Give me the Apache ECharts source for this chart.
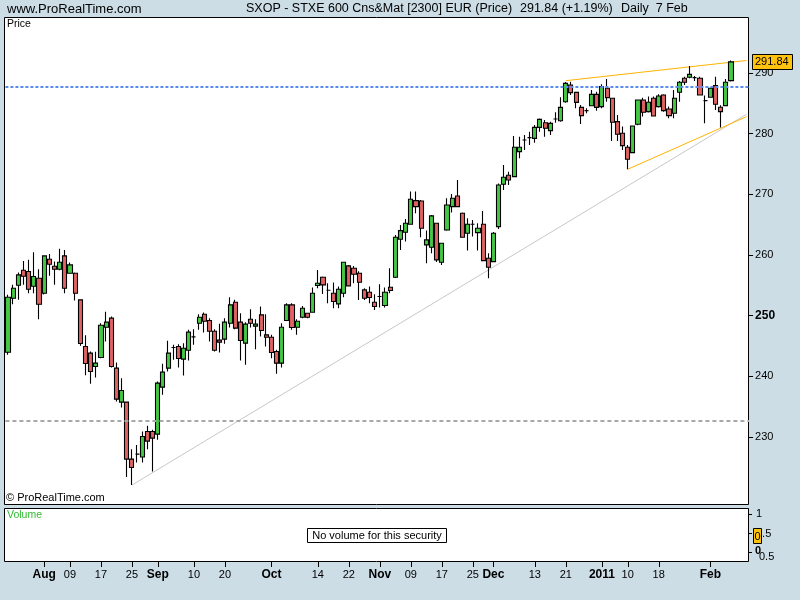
<!DOCTYPE html>
<html><head><meta charset="utf-8">
<script src="https://cdn.jsdelivr.net/npm/echarts@6/dist/echarts.min.js"></script>
<style>html,body{margin:0;padding:0;background:#ccdde6}#c{width:800px;height:600px}</style>
</head><body><div id="c"></div>
<script>
// ---- data ----
const opens = [243.98,252.88,255.02,257.49,257.27,254.86,256.17,253.70,259.30,258.15,257.66,259.85,257.00,257.00,252.61,244.92,243.82,241.62,243.11,248.10,249.59,241.35,235.75,235.75,226.36,227.18,226.69,230.91,230.91,230.47,238.22,241.35,244.75,244.92,242.83,244.31,246.51,248.76,250.24,249.20,247.44,245.96,246.13,248.76,252.22,248.93,245.47,249.42,248.27,250.13,246.84,246.45,244.09,242.17,249.20,251.78,248.10,249.75,250.40,250.57,254.96,256.33,254.19,253.70,251.94,253.70,258.20,257.82,256.99,254.25,253.86,252.22,253.15,251.67,254.69,256.33,262.60,263.75,265.07,268.97,268.91,261.66,261.28,265.23,258.81,264.13,267.97,269.73,266.88,263.58,265.06,263.69,265.06,259.46,258.91,264.68,271.65,273.14,272.92,277.04,278.96,279.34,279.23,281.04,281.81,280.50,282.42,282.14,285.27,288.02,286.81,284.34,283.79,284.61,286.48,284.46,287.48,285.83,281.99,280.07,277.76,276.88,281.55,285.56,283.63,285.83,284.46,286.38,284.07,283.36,286.82,289.13,289.29,289.24,289.13,285.45,286.00,287.92,284.35,284.62,288.74];
const closes = [253.04,254.53,256.72,256.50,254.36,256.45,251.89,259.85,258.48,257.66,258.81,254.53,258.37,253.70,245.41,242.12,240.80,242.17,248.43,248.93,241.62,236.24,237.67,226.36,224.98,227.18,230.09,229.32,229.82,238.88,240.69,243.82,244.75,242.94,244.64,247.28,246.51,249.75,249.09,247.44,244.31,245.63,248.93,251.78,247.94,245.91,248.60,248.76,248.60,247.55,246.45,243.93,242.17,248.10,251.78,248.05,249.09,251.23,249.75,253.70,255.35,255.07,254.19,252.33,254.36,258.81,254.91,256.83,255.51,252.88,252.99,251.50,253.15,253.86,254.14,262.92,264.02,265.23,269.18,267.98,264.41,262.49,266.44,259.19,261.94,268.25,269.35,267.97,262.92,265.06,265.06,264.41,259.08,257.98,263.58,271.54,272.81,272.37,277.75,277.75,278.96,279.34,281.04,282.36,280.88,281.70,282.42,284.34,288.29,286.76,285.16,282.97,283.79,286.48,284.34,287.75,285.94,281.88,279.90,278.03,275.78,281.27,285.56,283.52,285.17,282.92,286.22,283.80,282.98,285.83,288.47,288.47,289.78,289.24,286.38,285.45,287.48,284.84,283.63,288.47,291.84];
const lows = [243.54,251.89,252.61,255.08,253.70,253.70,249.42,253.50,256.56,255.08,257.50,253.70,256.90,252.50,245.03,240.19,238.77,239.81,243.00,245.74,241.46,235.86,234.87,223.39,222.07,225.81,225.81,228.00,224.32,229.54,236.95,240.80,242.72,241.46,240.14,242.61,245.19,247.66,247.22,245.74,244.09,243.93,245.36,248.05,247.77,242.61,241.90,248.05,244.48,246.56,244.92,243.00,240.41,241.46,249.10,247.66,246.84,249.58,249.58,250.50,254.52,253.59,252.05,251.23,251.23,253.04,254.80,255.35,252.60,252.60,252.05,250.95,251.34,251.34,253.70,256.20,260.84,262.21,265.00,266.88,262.92,258.64,260.29,258.86,258.37,264.00,266.99,267.90,262.90,260.73,263.03,260.73,259.00,256.17,258.80,264.30,270.72,271.54,272.80,275.94,277.31,278.13,278.52,280.33,279.51,279.78,281.81,281.98,285.10,286.37,284.17,281.59,283.35,284.50,283.79,284.18,285.28,278.80,278.80,277.32,274.13,276.80,281.40,282.81,283.50,282.81,284.30,283.60,282.54,282.54,285.28,288.03,289.13,288.70,286.30,281.71,285.90,283.91,281.00,284.50,288.60];
const highs = [253.43,255.08,257.11,259.03,259.20,260.46,257.66,259.90,260.18,258.92,261.01,260.84,258.76,257.10,252.70,246.78,244.09,244.04,248.76,250.63,249.86,242.28,239.70,235.80,228.00,228.66,230.91,231.85,231.20,239.15,242.06,245.85,245.19,245.30,245.47,247.66,247.77,250.24,250.52,249.58,247.77,248.65,249.58,253.04,252.61,250.41,248.93,251.07,249.42,251.51,250.24,246.84,244.37,248.76,252.06,252.06,249.42,251.61,250.50,254.63,257.54,256.44,255.35,255.46,254.80,258.90,258.37,258.20,257.30,254.50,254.80,253.53,255.18,254.63,257.82,263.31,264.96,265.94,270.45,270.45,269.07,264.02,266.60,265.30,262.00,269.35,270.06,272.37,266.99,266.05,265.78,265.23,267.26,260.29,263.80,271.80,274.84,273.74,279.62,279.51,279.78,280.33,281.43,282.50,282.25,281.98,283.52,285.99,288.50,288.57,286.92,284.72,284.17,287.20,286.92,288.14,289.02,285.90,283.09,281.16,278.14,281.30,285.60,285.94,286.11,286.11,286.49,286.49,284.46,287.20,288.69,289.40,291.16,289.50,289.40,286.27,287.60,289.40,284.70,289.02,292.04];
const lastClose = 291.84;
const priceTicks = [230, 240, 250, 260, 270, 280, 290];
const hLevels = { blue: 287.74, grey: 232.67 };
const trendGrey = [[24, 222.07], [143, 283.2]];
const trendUpper = [[108, 288.73], [143, 292.06]];
const trendLower = [[120, 274.13], [143, 282.8]];
const tickDates = ['2010-08-02','2010-08-09','2010-08-17','2010-08-25','2010-09-01','2010-09-10','2010-09-20','2010-10-01','2010-10-14','2010-10-22','2010-11-01','2010-11-09','2010-11-17','2010-11-25','2010-12-01','2010-12-13','2010-12-21','2011-01-03','2011-01-10','2011-01-18','2011-02-01'];
const tickTexts = ['Aug','09','17','25','Sep','10','20','Oct','14','22','Nov','09','17','25','Dec','13','21','2011','10','18','Feb'];
const boldTicks = ['Aug','Sep','Oct','Nov','Dec','2011','Feb'];
const closedDays = ['2010-12-24','2010-12-31'];
const extraSlots = 3;

// ---- trading-day categories ----
const categories = [];
for (let t = Date.UTC(2010, 6, 22); categories.length < opens.length + extraSlots; t += 86400000) {
  const d = new Date(t), wd = d.getUTCDay();
  if (wd === 0 || wd === 6) continue;
  const s = d.toISOString().slice(0, 10);
  if (closedDays.includes(s)) continue;
  categories.push(s);
}
const tickMap = {};
const tickIdx = [];
tickDates.forEach((d, k) => { const idx = categories.indexOf(d); if (idx >= 0) { tickMap[idx] = tickTexts[k]; tickIdx.push(idx); } });
const candleData = opens.map((o, i) => [o, closes[i], lows[i], highs[i]]);

const FONT = '"Liberation Sans", Arial, sans-serif';
const chart = echarts.init(document.getElementById('c'), null, { renderer: 'canvas' });
const bandW = 5.1643, gridLeft = 8 - bandW / 2, gridW = bandW * categories.length;

const baseGraphic = [
  { type: 'rect', z: -1, silent: true, shape: { x: 4.5, y: 17.5, width: 744, height: 487 }, style: { fill: '#fff', stroke: '#000', lineWidth: 1 } },
  { type: 'rect', z: -1, silent: true, shape: { x: 4.5, y: 508.5, width: 744, height: 53 }, style: { fill: '#fff', stroke: '#000', lineWidth: 1 } },
  { type: 'text', x: 7, y: 9, style: { text: 'www.ProRealTime.com', font: '13px ' + FONT, fill: '#000', verticalAlign: 'middle' } },
  { type: 'text', x: 246, y: 9, style: { text: 'SXOP - STXE 600 Cns&Mat [2300] EUR (Price)', font: '12.5px ' + FONT, fill: '#000', verticalAlign: 'middle' } },
  { type: 'text', x: 520, y: 9, style: { text: '291.84 (+1.19%)', font: '12.5px ' + FONT, fill: '#000', verticalAlign: 'middle' } },
  { type: 'text', x: 621, y: 9, style: { text: 'Daily  7 Feb', font: '12.5px ' + FONT, fill: '#000', verticalAlign: 'middle' } },
  { type: 'text', x: 7, y: 24, style: { text: 'Price', font: '10.5px ' + FONT, fill: '#000', verticalAlign: 'middle' } },
  { type: 'text', x: 6, y: 498, style: { text: '© ProRealTime.com', font: '11px ' + FONT, fill: '#000', verticalAlign: 'middle' } },
  { type: 'text', x: 7, y: 515, style: { text: 'Volume', font: '10.5px ' + FONT, fill: '#33bb33', verticalAlign: 'middle' } },
  { type: 'rect', shape: { x: 307.5, y: 528.5, width: 139, height: 14 }, style: { fill: '#fff', stroke: '#000', lineWidth: 1 } },
  { type: 'text', x: 377, y: 535.5, style: { text: 'No volume for this security', font: '11px ' + FONT, fill: '#000', align: 'center', verticalAlign: 'middle' } },
  { type: 'rect', shape: { x: 748, y: 514, width: 4, height: 1 }, style: { fill: '#000' } },
  { type: 'rect', shape: { x: 748, y: 533, width: 4, height: 1 }, style: { fill: '#000' } },
  { type: 'rect', shape: { x: 748, y: 552, width: 4, height: 1 }, style: { fill: '#000' } },
  { type: 'text', x: 756, y: 514, style: { text: '1', font: '11px ' + FONT, fill: '#000', verticalAlign: 'middle' } },
  { type: 'text', x: 756, y: 534, style: { text: '0.5', font: '11px ' + FONT, fill: '#000', verticalAlign: 'middle' } },
  { type: 'rect', shape: { x: 753.5, y: 528.5, width: 8, height: 15 }, style: { fill: '#ffc20e', stroke: '#000', lineWidth: 1 } },
  { type: 'text', x: 757.5, y: 536.5, style: { text: '0', font: '11px ' + FONT, fill: '#000', align: 'center', verticalAlign: 'middle' } },
  { type: 'text', x: 755, y: 551, style: { text: '0', font: 'bold 11px ' + FONT, fill: '#000', verticalAlign: 'middle' } },
  { type: 'text', x: 759, y: 557, style: { text: '0.5', font: '11px ' + FONT, fill: '#000', verticalAlign: 'middle' } }
];

chart.setOption({
  animation: false,
  backgroundColor: '#ccdde6',
  textStyle: { fontFamily: FONT },
  grid: [
    { left: gridLeft, top: 17, width: gridW, height: 488 },
    { left: gridLeft, top: 508, width: gridW, height: 54 }
  ],
  xAxis: [
    { type: 'category', gridIndex: 0, data: categories, boundaryGap: true, show: false },
    { type: 'category', gridIndex: 1, data: categories, boundaryGap: true, position: 'bottom',
      axisLine: { show: false, onZero: false },
      axisTick: { show: false },
      axisLabel: { interval: (i) => tickMap[i] !== undefined, margin: 7, color: '#000', fontSize: 11, fontFamily: FONT,
        formatter: (v, i) => { const t = tickMap[i]; if (t === undefined) return ''; return boldTicks.includes(t) ? '{m|' + t + '}' : t; },
        rich: { m: { fontWeight: 'bold', fontSize: 12, fontFamily: FONT, color: '#000' } } },
      splitLine: { show: false } }
  ],
  yAxis: [
    { type: 'value', gridIndex: 0, position: 'right', min: 218.79, max: 299.23,
      splitLine: { show: false }, axisLine: { show: false },
      axisTick: { show: true, length: 4, customValues: priceTicks, lineStyle: { color: '#000' } },
      axisLabel: { customValues: priceTicks, margin: 6, color: '#000', fontSize: 11, fontFamily: FONT,
        formatter: (v) => (v === 250 ? '{b|250}' : String(v)),
        rich: { b: { fontWeight: 'bold', fontSize: 12, color: '#000', fontFamily: FONT } } } },
    { type: 'value', gridIndex: 1, show: false, min: -0.5, max: 1 }
  ],
  series: [
    { type: 'line', xAxisIndex: 0, yAxisIndex: 0, data: trendGrey, showSymbol: false, symbol: 'none', z: 1,
      lineStyle: { color: '#c8c8c8', width: 1 }, silent: true },
    { type: 'line', xAxisIndex: 0, yAxisIndex: 0, data: trendUpper, showSymbol: false, symbol: 'none', z: 1,
      lineStyle: { color: '#ffb400', width: 1 }, silent: true },
    { type: 'line', xAxisIndex: 0, yAxisIndex: 0, data: trendLower, showSymbol: false, symbol: 'none', z: 1,
      lineStyle: { color: '#ffb400', width: 1 }, silent: true },
    { type: 'candlestick', xAxisIndex: 0, yAxisIndex: 0, data: candleData, barWidth: 4.6, z: 3,
      itemStyle: { color: '#45c945', color0: '#e06262', borderColor: '#000', borderColor0: '#000', borderColorDoji: '#000', borderWidth: 1.1 },
      markLine: { silent: true, symbol: 'none', label: { show: false },
        data: [
          { yAxis: hLevels.blue, lineStyle: { color: '#5a8cf0', type: [3, 2], width: 2 } },
          { yAxis: hLevels.grey, lineStyle: { color: '#a8a8a8', type: [4, 3], width: 2 } }
        ] } }
  ],
  graphic: baseGraphic
});

// last-price tag and date ticks placed through the library's axis scales
const tagY = chart.convertToPixel({ yAxisIndex: 0 }, lastClose);
const extra = [
  { type: 'rect', z: 10, shape: { x: 752.5, y: Math.round(tagY) - 7.5, width: 40, height: 15 }, style: { fill: '#ffc20e', stroke: '#000', lineWidth: 1 } },
  { type: 'text', z: 11, x: 755, y: Math.round(tagY), style: { text: lastClose.toFixed(2), font: '11px ' + FONT, fill: '#000', verticalAlign: 'middle' } }
];
const tickY = chart.convertToPixel({ yAxisIndex: 1 }, -0.5);
tickIdx.forEach((idx) => {
  const px = chart.convertToPixel({ xAxisIndex: 0 }, idx);
  extra.push({ type: 'rect', z: 20, shape: { x: Math.round(px), y: Math.round(tickY), width: 1, height: 5 }, style: { fill: '#000' } });
});
chart.setOption({ graphic: baseGraphic.concat(extra) });
</script></body></html>
